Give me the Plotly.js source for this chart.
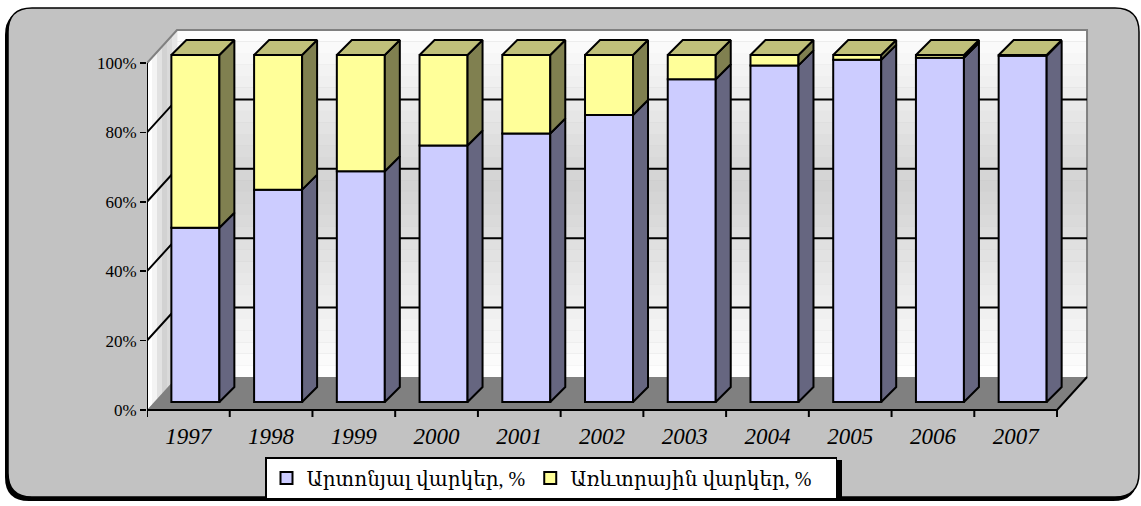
<!DOCTYPE html>
<html>
<head>
<meta charset="utf-8">
<script src="https://cdn.plot.ly/plotly-3.0.1.min.js"></script>
<style>html,body{margin:0;padding:0;background:#fff;}#chart{width:1141px;height:506px;}</style>
</head>
<body>
<div id="chart"></div>
<script>
// ---- data ----
const years = ['1997','1998','1999','2000','2001','2002','2003','2004','2005','2006','2007'];
const preferential = [50.2, 61.2, 66.5, 73.9, 77.4, 82.7, 93.0, 97.0, 98.6, 99.2, 99.8];
const commercial   = [49.8, 38.8, 33.5, 26.1, 22.6, 17.3, 7.0, 3.0, 1.4, 0.8, 0.2];
const seriesNames = ['Արտոնյալ վարկեր, %', 'Առևտրային վարկեր, %'];
const yTicks = [0, 20, 40, 60, 80, 100];
const yTickText = ['0%', '20%', '40%', '60%', '80%', '100%'];

// ---- geometry (pixels) ----
const W = 1141, H = 506;
const L = 147, R = 1095, T = 28, B = 420;   // plot area in px
const axisY0 = 410;                           // px of 0% on front axis
const kx = 82.73, ky = 3.47;                  // px per category, px per %
const n = years.length;
const Dx = 30 / kx, Dy = 33 / ky;             // wall depth
const Bx = 7 / kx, By = 8 / ky;               // bar front plane offset
const dx = 15 / kx, dy = 15 / ky;             // bar depth
const bw = 0.58;

const xr = [0, (R - L) / kx];
const yr = [-(B - axisY0) / ky, (axisY0 - T) / ky];

const serif = 'Liberation Serif, DejaVu Serif, serif';
const cPurple = '#CCCCFF', cPurpleSide = '#666680';
const cYellow = '#FFFF99', cYellowSide = '#808050', cTop = '#C0C07A';

const idx = years.map((_, i) => i);
const cx = idx.map(i => i + 0.5 + Bx);

// ---- bar front faces ----
const traces = [];
traces.push({
  type: 'bar', name: seriesNames[0], x: cx, y: preferential, base: idx.map(() => By),
  width: bw, marker: {color: cPurple, line: {color: '#000', width: 2}}, hoverinfo: 'skip'
});
traces.push({
  type: 'bar', name: seriesNames[1], x: cx, y: commercial, base: preferential.map(p => By + p),
  width: bw, marker: {color: cYellow, line: {color: '#000', width: 2}}, hoverinfo: 'skip',
  legendwidth: 260
});

// ---- side & top faces ----
function sidePoly(lo, hi) {
  const X = [], Y = [];
  idx.forEach(i => {
    const x1 = cx[i] + bw / 2;
    X.push(x1, x1 + dx, x1 + dx, x1, x1, null);
    Y.push(By + lo[i], By + lo[i] + dy, By + hi[i] + dy, By + hi[i], By + lo[i], null);
  });
  return {X, Y};
}
const s1 = sidePoly(idx.map(() => 0), preferential);
const s2 = sidePoly(preferential, preferential.map((p, i) => p + commercial[i]));
traces.push({type: 'scatter', mode: 'lines', x: s1.X, y: s1.Y, fill: 'toself', fillcolor: cPurpleSide,
  line: {color: '#000', width: 2}, showlegend: false, hoverinfo: 'skip'});
traces.push({type: 'scatter', mode: 'lines', x: s2.X, y: s2.Y, fill: 'toself', fillcolor: cYellowSide,
  line: {color: '#000', width: 2}, showlegend: false, hoverinfo: 'skip'});
(function () {
  const X = [], Y = [];
  idx.forEach(i => {
    const x0 = cx[i] - bw / 2, x1 = cx[i] + bw / 2;
    const top = By + preferential[i] + commercial[i];
    X.push(x0, x1, x1 + dx, x0 + dx, x0, null);
    Y.push(top, top, top + dy, top + dy, top, null);
  });
  traces.push({type: 'scatter', mode: 'lines', x: X, y: Y, fill: 'toself', fillcolor: cTop,
    line: {color: '#000', width: 2}, showlegend: false, hoverinfo: 'skip'});
})();

// ---- front axis lines & ticks ----
(function () {
  const X = [0, 0, null, 0, n, n + Dx, null], Y = [0, 100, null, 0, 0, Dy, null];
  for (let i = 0; i <= n; i++) { X.push(i, i, null); Y.push(0, -7 / ky, null); }
  traces.push({type: 'scatter', mode: 'lines', x: X, y: Y, line: {color: '#000', width: 2},
    showlegend: false, hoverinfo: 'skip', cliponaxis: false});
})();

// ---- shapes ----
const shapes = [];
const pxX = X => (X - L) / (R - L);
const pxY = Y => (B - Y) / (B - T);
function roundRectPath(x0, y0, x1, y1, r) {
  const P = (x, y) => pxX(x) + ',' + pxY(y);
  return 'M' + P(x0 + r, y0) + ' L' + P(x1 - r, y0) + ' Q' + P(x1, y0) + ' ' + P(x1, y0 + r) +
    ' L' + P(x1, y1 - r) + ' Q' + P(x1, y1) + ' ' + P(x1 - r, y1) +
    ' L' + P(x0 + r, y1) + ' Q' + P(x0, y1) + ' ' + P(x0, y1 - r) +
    ' L' + P(x0, y0 + r) + ' Q' + P(x0, y0) + ' ' + P(x0 + r, y0) + ' Z';
}
// outer frame with shadow
shapes.push({type: 'path', xref: 'paper', yref: 'paper', layer: 'below',
  path: roundRectPath(5, 11, 1137, 501, 24), fillcolor: '#000', line: {width: 0}});
shapes.push({type: 'path', xref: 'paper', yref: 'paper', layer: 'below',
  path: roundRectPath(8, 8, 1139, 497, 24), fillcolor: '#C2C2C2', line: {color: '#000', width: 1.5}});

// back wall gradient bands
const bands = 30;
function lerpGray(t) {
  let g;
  if (t < 0.45) g = 255 - (255 - 210) * (t / 0.45);
  else g = 210 + (255 - 210) * ((t - 0.45) / 0.55);
  g = Math.round(g);
  return 'rgb(' + g + ',' + g + ',' + g + ')';
}
for (let k = 0; k < bands; k++) {
  const yTop = 100 + Dy - (100 / bands) * k, yBot = 100 + Dy - (100 / bands) * (k + 1);
  shapes.push({type: 'rect', xref: 'x', yref: 'y', layer: 'below', x0: Dx, x1: n + Dx, y0: yBot, y1: yTop + 0.05,
    fillcolor: lerpGray((k + 0.5) / bands), line: {width: 0}});
}
// left wall gradient bands
const lwCols = ['#ffffff', '#f4f4f4', '#e2e2e2', '#d2d2d2', '#dadada', '#e6e6e6'];
lwCols.forEach((c, k) => {
  const a = Dx * k / lwCols.length, b = Dx * (k + 1) / lwCols.length + 0.005;
  const ya = Dy * k / lwCols.length, yb = Dy * (k + 1) / lwCols.length;
  shapes.push({type: 'path', xref: 'x', yref: 'y', layer: 'below',
    path: `M${a},${ya} L${b},${yb} L${b},${100 + yb} L${a},${100 + ya} Z`, fillcolor: c, line: {width: 0}});
});
// floor
shapes.push({type: 'path', xref: 'x', yref: 'y', layer: 'below',
  path: `M0,0 L${n},0 L${n + Dx},${Dy} L${Dx},${Dy} Z`, fillcolor: '#808080', line: {width: 0}});
// wall borders
shapes.push({type: 'path', xref: 'x', yref: 'y', layer: 'below',
  path: `M0,100 L${Dx},${100 + Dy} L${n + Dx},${100 + Dy} L${n + Dx},${Dy}`, line: {color: '#808080', width: 2}});
// gridlines
yTicks.forEach(v => {
  if (v === 0 || v === 100) return;
  shapes.push({type: 'path', xref: 'x', yref: 'y', layer: 'below',
    path: `M0,${v} L${Dx},${v + Dy} L${n + Dx},${v + Dy}`, line: {color: '#000', width: 2}});
});
// legend drop shadow (legend box ~265..839 x 457..495)
shapes.push({type: 'rect', xref: 'paper', yref: 'paper', layer: 'below',
  x0: pxX(268), x1: pxX(842), y0: pxY(498), y1: pxY(460), fillcolor: '#000', line: {width: 0}});

const layout = {
  width: W, height: H,
  margin: {l: L, r: W - R, t: T, b: H - B, pad: 0},
  paper_bgcolor: '#ffffff', plot_bgcolor: 'rgba(0,0,0,0)',
  barmode: 'overlay', bargap: 0,
  showlegend: true,
  legend: {orientation: 'h', xref: 'container', yref: 'container', x: 265 / W, y: 1 - 457 / H,
    xanchor: 'left', yanchor: 'top', bgcolor: '#ffffff', bordercolor: '#000', borderwidth: 1.5,
    font: {family: serif, size: 20, color: '#000'}, traceorder: 'normal', itemwidth: 30},
  xaxis: {range: xr, showgrid: false, zeroline: false, showline: false, ticks: '',
    tickmode: 'array', tickvals: idx.map(i => i + 0.5), ticktext: years,
    tickfont: {family: serif, size: 23, style: 'italic', color: '#000'}, fixedrange: true},
  yaxis: {range: yr, showgrid: false, zeroline: false, showline: false, ticks: 'outside',
    ticklen: 6, tickwidth: 1.5, tickcolor: '#000',
    tickmode: 'array', tickvals: yTicks, ticktext: yTickText,
    tickfont: {family: serif, size: 17, color: '#000'}, fixedrange: true},
  shapes: shapes
};

Plotly.newPlot('chart', traces, layout, {displayModeBar: false, staticPlot: true});
</script>
</body>
</html>
